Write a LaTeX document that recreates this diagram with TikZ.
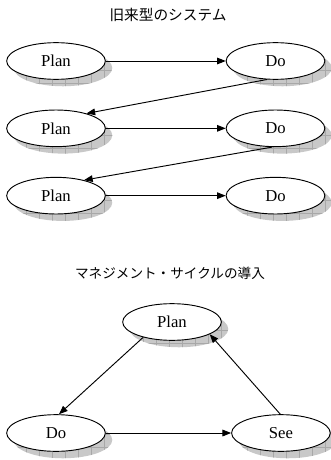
\documentclass[tikz,border=0pt]{standalone}
\usepackage{fontspec}
\setmainfont{Liberation Serif}
\newfontfamily\jpfont{Noto Sans CJK JP}
\usetikzlibrary{arrows.meta,shapes,positioning,patterns.meta}

\tikzdeclarepattern{
  name=shadow grid,
  type=uncolored,
  bounding box={(-0.5pt,-0.5pt) and (10.25pt,10.25pt)},
  tile size={(9.75pt,9.75pt)},
  code={\draw[line width=0.4pt] (0,0) -- (9.75pt,0) (0,0) -- (0,9.75pt);}
}

\begin{document}
\begin{tikzpicture}[x=0.75pt,y=-0.75pt,node distance=164.6pt,
  main node/.style={ellipse,draw,fill=white,line width=0.7pt,
    minimum width=74pt,minimum height=27.5pt,font=\fontsize{12.5}{14}\selectfont,
    preaction={fill=gray!43,transform canvas={shift={(5.2pt,-5.2pt)}}},
    preaction={pattern=shadow grid,pattern color=gray!68,transform canvas={shift={(5.2pt,-5.2pt)}}}},
  title/.style={font=\jpfont\fontsize{11}{13}\selectfont},
  flow/.style={-{Triangle[length=6.5pt,width=5pt]},line width=0.7pt}]
  \useasboundingbox (0,0) rectangle (331,460);

  % old system
  \node[title] (t1) at (168,15) {旧来型のシステム};
  \node[main node] (p1) at (56,61) {Plan};
  \node[main node] (d1) [right of=p1] {Do};
  \node[main node,node distance=50.5pt] (p2) [below of=p1] {Plan};
  \node[main node] (d2) [right of=p2] {Do};
  \node[main node,node distance=50.5pt] (p3) [below of=p2] {Plan};
  \node[main node] (d3) [right of=p3] {Do};

  \draw[flow] (p1) -- (d1);
  \draw[flow] (d1.245) -- (p2.26);
  \draw[flow] (p2) -- (d2);
  \draw[flow] (d2.260) -- (p3.29);
  \draw[flow] (p3) -- (d3);

  % management cycle
  \node[title,font=\jpfont\fontsize{10.2}{12}\selectfont] (t2) at (170,273) {マネジメント・サイクルの導入};
  \node[main node] (plan) at (172,322) {Plan};
  \node[main node] (do) at (56,433) {Do};
  \node[main node,node distance=168.7pt] (see) [right of=do] {See};

  \draw[flow] (plan.208) -- (do.81);
  \draw[flow] (do) -- (see);
  \draw[flow] (see.92) -- (plan.342);
\end{tikzpicture}
\end{document}
